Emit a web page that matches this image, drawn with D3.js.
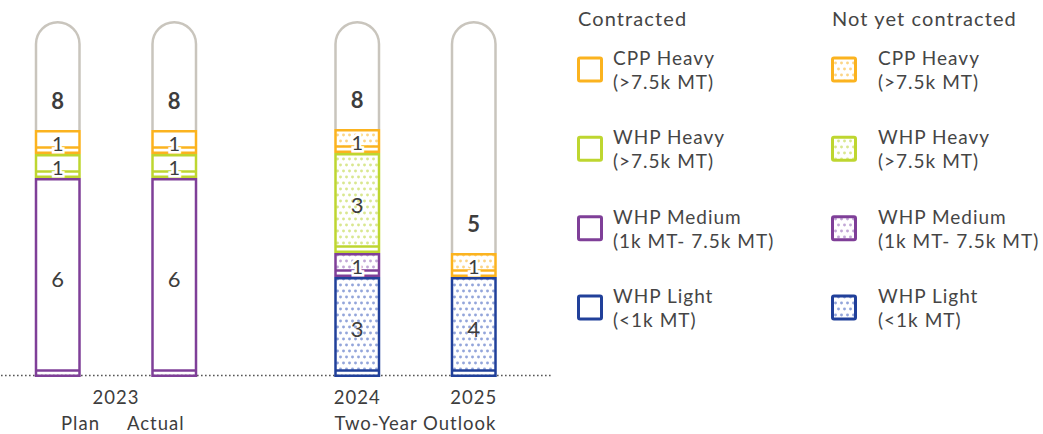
<!DOCTYPE html>
<html>
<head>
<meta charset="utf-8">
<script src="https://cdn.jsdelivr.net/npm/d3@7"></script>
<style>
  html, body { margin: 0; padding: 0; background: #fff; }
  svg { display: block; font-family: Lato, "Open Sans", sans-serif; }
</style>
</head>
<body>
<svg id="chart" width="1043" height="434"></svg>
<script>
// ---------- data ----------
const bars = ["Plan", "Actual", "2024", "2025"];
const barGroups = ["2023", "2023", "Two-Year Outlook", "Two-Year Outlook"];
const groupNames = ["2023", "Two-Year Outlook"];
const groupSubLabels = ["Plan", "Actual"];
const yearLabels = ["2023", "2024", "2025"];

// stack order bottom -> top
const seriesKeys = ["WHP Light", "WHP Medium", "WHP Heavy", "CPP Heavy"];
const seriesSub = ["(<1k MT)", "(1k MT- 7.5k MT)", "(>7.5k MT)", "(>7.5k MT)"];

// contracted
const contractedWhpLight  = [0, 0, 0, 0];
const contractedWhpMedium = [6, 6, 0, 0];
const contractedWhpHeavy  = [1, 1, 0, 0];
const contractedCppHeavy  = [1, 1, 0, 0];
// not yet contracted
const openWhpLight  = [0, 0, 3, 4];
const openWhpMedium = [0, 0, 1, 0];
const openWhpHeavy  = [0, 0, 3, 0];
const openCppHeavy  = [0, 0, 1, 1];
// remaining (grey capsule)
const remaining = [8, 8, 8, 5];

const legendHeaders = ["Contracted", "Not yet contracted"];
const legendOrder = ["CPP Heavy", "WHP Heavy", "WHP Medium", "WHP Light"];

// ---------- styles ----------
const colors = {
  "CPP Heavy": "#fbb31f",
  "WHP Heavy": "#bed630",
  "WHP Medium": "#7f3f98",
  "WHP Light": "#21409a"
};
const dotColors = {
  "CPP Heavy": "#fcd586",
  "WHP Heavy": "#d9e78f",
  "WHP Medium": "#c2a8d6",
  "WHP Light": "#93a5da"
};
const textColor = "#3d3d3d";
const greyCapsule = "#c9c5bd";

const svg = d3.select("#chart");
const defs = svg.append("defs");
Object.keys(dotColors).forEach((k, i) => {
  const p = defs.append("pattern")
    .attr("id", "dots" + i)
    .attr("patternUnits", "userSpaceOnUse")
    .attr("width", 6).attr("height", 12);
  p.append("circle").attr("cx", 1.5).attr("cy", 3).attr("r", 1.45).attr("fill", dotColors[k]);
  p.append("circle").attr("cx", 4.5).attr("cy", 9).attr("r", 1.45).attr("fill", dotColors[k]);
});
const patId = k => "url(#dots" + Object.keys(dotColors).indexOf(k) + ")";

// ---------- scales ----------
const baseY = 377;
const capTop = 21;
const barW = 46, sw = 2.5;

const xGroup = d3.scaleBand().domain(groupNames).range([-33.75, 565.25]);
const xInner = d3.scalePoint().domain([0, 1]).range([91.5, 208]);
const groupIndex = {"2023": [0, 1], "Two-Year Outlook": [2, 3]};
const xCenter = i => {
  const g = barGroups[i];
  return xGroup(g) + xInner(groupIndex[g].indexOf(i));
};
// display-height scale of the infographic (segments not strictly proportional)
const h = d3.scaleLinear().domain([0, 1, 3, 4, 6]).range([0, 24, 100, 100, 199]);

// ---------- baseline ----------
svg.append("line")
  .attr("x1", 1).attr("x2", 553).attr("y1", baseY - 1.5).attr("y2", baseY - 1.5)
  .attr("stroke", "#555").attr("stroke-width", 1.6)
  .attr("stroke-dasharray", "1.6 2.4");

// ---------- build segments ----------
const contracted = {"WHP Light": contractedWhpLight, "WHP Medium": contractedWhpMedium,
  "WHP Heavy": contractedWhpHeavy, "CPP Heavy": contractedCppHeavy};
const open = {"WHP Light": openWhpLight, "WHP Medium": openWhpMedium,
  "WHP Heavy": openWhpHeavy, "CPP Heavy": openCppHeavy};

bars.forEach((b, i) => {
  const cx = xCenter(i);
  const g = svg.append("g");
  let y = baseY;
  const segs = [];
  seriesKeys.forEach(k => {
    [[contracted[k][i], false], [open[k][i], true]].forEach(([v, isOpen]) => {
      if (v > 0) {
        const top = y - h(v);
        segs.push({k, v, isOpen, top, bottom: y});
        y = top;
      }
    });
  });
  const colTop = y;
  // grey capsule
  const xl = cx - barW / 2 + sw / 2, xr = cx + barW / 2 - sw / 2;
  const r = (xr - xl) / 2;
  const cy = capTop + sw / 2 + r;
  g.append("path")
    .attr("d", `M${xl},${colTop} L${xl},${cy} A${r},${r} 0 0 1 ${xr},${cy} L${xr},${colTop}`)
    .attr("fill", "none").attr("stroke", greyCapsule).attr("stroke-width", sw);
  g.append("text")
    .attr("x", cx).attr("y", colTop - 30)
    .attr("text-anchor", "middle").attr("dominant-baseline", "central")
    .attr("font-size", 22).attr("font-weight", 700).attr("fill", textColor)
    .text(remaining[i]);

  segs.forEach(s => {
    const t = s.top + sw / 2, bt = s.bottom - sw / 2;
    const inner = s.bottom - 6.5;
    if (s.isOpen) {
      g.append("rect")
        .attr("x", xl).attr("y", t).attr("width", xr - xl).attr("height", inner - t)
        .attr("fill", patId(s.k));
    }
    g.append("rect")
      .attr("x", xl).attr("y", t).attr("width", xr - xl).attr("height", bt - t)
      .attr("fill", "none").attr("stroke", colors[s.k]).attr("stroke-width", sw);
    g.append("line")
      .attr("x1", xl).attr("x2", xr).attr("y1", inner).attr("y2", inner)
      .attr("stroke", colors[s.k]).attr("stroke-width", sw);
    const small = s.bottom - s.top < 40;
    const lbl = g.append("text")
      .attr("x", cx).attr("y", (s.top + s.bottom) / 2 + 1)
      .attr("text-anchor", "middle").attr("dominant-baseline", "central")
      .attr("font-size", small ? 20 : 22).attr("fill", textColor)
      .text(s.v);
    if (small) {
      lbl.attr("stroke", "#fff").attr("stroke-width", 5).attr("paint-order", "stroke");
    }
  });
});

// ---------- x labels ----------
const axisG = svg.append("g").attr("font-size", 18.5).attr("letter-spacing", 1).attr("fill", textColor);
const mid2023 = xGroup("2023") + xGroup.bandwidth() / 2;
const midOut = xGroup("Two-Year Outlook") + xGroup.bandwidth() / 2;
axisG.append("text").attr("x", mid2023).attr("y", 404).attr("text-anchor", "middle").text(yearLabels[0]);
axisG.append("text").attr("x", xCenter(2)).attr("y", 404).attr("text-anchor", "middle").text(yearLabels[1]);
axisG.append("text").attr("x", xCenter(3)).attr("y", 404).attr("text-anchor", "middle").text(yearLabels[2]);
axisG.append("text").attr("x", mid2023 - 16).attr("y", 430).attr("text-anchor", "end").text(groupSubLabels[0]);
axisG.append("text").attr("x", mid2023 + 11).attr("y", 430).attr("text-anchor", "start").text(groupSubLabels[1]);
axisG.append("text").attr("x", midOut).attr("y", 430).attr("text-anchor", "middle").text(groupNames[1]);

// ---------- legend ----------
const legendX = [577, 831];
const legendTextX = [613, 878];
const rowY = d3.scalePoint().domain(legendOrder).range([69.5, 307.5]);
const legG = svg.append("g").attr("fill", "#454545").attr("letter-spacing", 1);
legendHeaders.forEach((hd, c) => {
  legG.append("text").attr("x", legendX[c] + 1).attr("y", 26)
    .attr("font-size", 20).attr("letter-spacing", 1.1).text(hd);
  legendOrder.forEach(k => {
    const yc = rowY(k);
    legG.append("rect")
      .attr("x", legendX[c] + 1.5).attr("y", yc - 11.5)
      .attr("width", 23).attr("height", 23).attr("rx", 1.5)
      .attr("fill", c === 1 ? patId(k) : "#fff")
      .attr("stroke", colors[k]).attr("stroke-width", 3);
    const si = seriesKeys.indexOf(k);
    legG.append("text").attr("x", legendTextX[c]).attr("y", yc - 4.5)
      .attr("font-size", 19).text(k);
    legG.append("text").attr("x", legendTextX[c]).attr("y", yc + 19.5)
      .attr("font-size", 19).text(seriesSub[si]);
  });
});
</script>
</body>
</html>
